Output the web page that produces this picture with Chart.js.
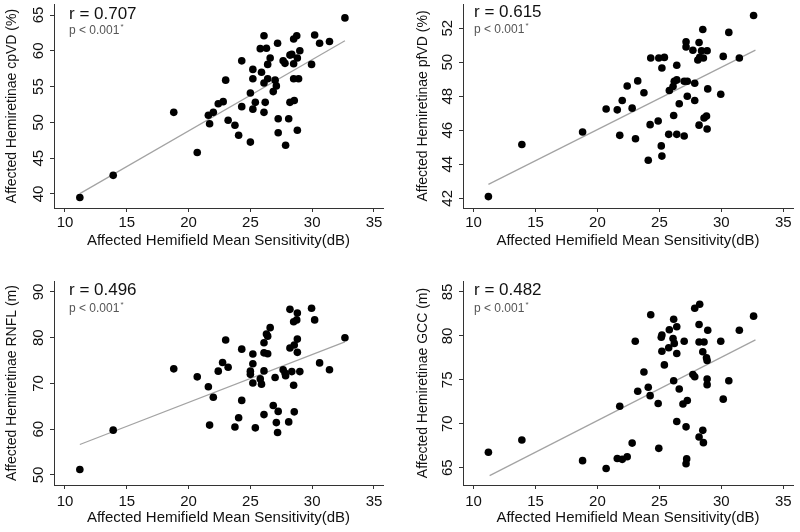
<!DOCTYPE html>
<html lang="en">
<head>
  <meta charset="UTF-8">
  <title>Hemifield sensitivity vs hemiretinal measures</title>
  <style>
    body { margin: 0; padding: 0; background: #fff; }
    .grid { position: relative; width: 800px; height: 532px; }
    .grid canvas { position: absolute; }
  </style>
</head>
<body>
  <div class="grid">
    <canvas id="cpvdChart" width="400" height="266" style="left:0;top:0"></canvas>
    <canvas id="pfvdChart" width="400" height="266" style="left:400px;top:0"></canvas>
    <canvas id="rnflChart" width="400" height="266" style="left:0;top:266px"></canvas>
    <canvas id="gccChart" width="400" height="266" style="left:400px;top:266px"></canvas>
  </div>

  <script src="https://cdn.jsdelivr.net/npm/chart.js"></script>
  <script>
    // shared x ticks (affected hemifield mean sensitivity, dB)
    const xTicks = [10, 15, 20, 25, 30, 35];

    // cpVD panel
    const cpvdMS = [11.2, 13.9, 18.8, 20.7, 21.6, 21.7, 22.0, 22.4, 22.8, 23.0, 23.2, 23.75, 24.05, 24.3, 24.3,
      25.0, 25.0, 25.2, 25.2, 25.2, 25.4, 25.8, 25.9, 26.1, 26.1, 26.2, 26.1, 26.3, 26.4, 26.4, 26.6, 26.85,
      27.0, 27.1, 27.2, 27.25, 27.25, 27.65, 27.8, 27.85, 28.1, 28.2, 28.2, 28.35, 28.5, 28.5, 28.55, 28.5,
      28.75, 28.8, 28.8, 28.9, 29.0, 29.95, 30.2, 30.6, 31.4, 32.65];
    const cpvd = [39.5, 42.6, 51.4, 45.8, 51.0, 49.8, 51.4, 52.6, 52.9, 55.9, 50.3, 49.6, 48.2, 52.2, 58.6,
      47.25, 54.1, 51.85, 56.1, 57.4, 52.8, 60.3, 57.0, 62.1, 55.5, 52.8, 51.4, 60.35, 58.1, 56.1, 59.0, 54.3,
      55.9, 55.1, 61.05, 50.5, 48.55, 58.6, 58.25, 46.8, 50.5, 52.8, 59.4, 59.5, 58.2, 56.1, 53.05, 61.65,
      62.1, 59.0, 48.9, 56.1, 60.0, 58.1, 62.2, 61.05, 61.3, 64.6];
    const cpvdFitX = [11.2, 32.65];
    const cpvdFitY = [40.05, 61.4];
    const cpvdTicks = [40, 45, 50, 55, 60, 65];

    // pfVD panel
    const pfvdMS = [11.2, 13.9, 18.8, 20.7, 21.6, 21.8, 22.0, 22.4, 22.8, 23.07, 23.25, 23.75, 24.1, 24.25,
      24.3, 24.9, 24.95, 25.15, 25.2, 25.2, 25.4, 25.75, 25.8, 26.1, 26.15, 26.2, 26.4, 26.4, 26.4, 26.6,
      27.0, 27.0, 27.15, 27.15, 27.25, 27.25, 27.7, 27.85, 27.85, 28.2, 28.1, 28.2, 28.25, 28.4, 28.5, 28.55,
      28.6, 28.8, 28.85, 28.85, 28.9, 29.95, 30.15, 30.6, 31.45, 32.6];
    const pfvd = [42.1, 45.16, 45.9, 47.25, 47.2, 45.7, 47.75, 48.6, 47.3, 45.5, 48.9, 48.2, 44.24, 46.33,
      50.25, 46.54, 50.25, 45.08, 44.48, 49.66, 50.28, 45.76, 48.34, 48.57, 46.87, 48.88, 49.82, 48.96, 45.76, 47.56,
      48.88, 45.66, 51.2, 50.9, 48.0, 48.88, 50.7, 48.76, 47.75, 51.16, 50.13, 46.3, 50.28, 50.67, 51.92, 50.25,
      46.72, 46.83, 50.67, 46.07, 48.43, 48.12, 50.34, 51.75, 50.25, 52.74];
    const pfvdFitX = [11.2, 32.75];
    const pfvdFitY = [42.82, 50.71];
    const pfvdTicks = [42, 44, 46, 48, 50, 52];

    // RNFL panel
    const rnflMS = [11.2, 13.9, 18.8, 20.7, 21.6, 21.7, 22.0, 22.4, 22.75, 23.0, 23.2, 23.75, 24.05, 24.3,
      24.3, 25.0, 25.0, 25.2, 25.2, 25.2, 25.4, 25.8, 25.9, 26.1, 26.1, 26.1, 26.1, 26.3, 26.4, 26.4, 26.6,
      26.85, 27.0, 27.1, 27.2, 27.25, 27.65, 27.8, 27.85, 28.1, 28.2, 28.2, 28.35, 28.5, 28.5, 28.55, 28.55,
      28.75, 28.8, 28.8, 28.8, 29.0, 29.95, 30.2, 30.6, 31.4, 32.65];
    const rnfl = [51.2, 59.8, 73.2, 71.45, 69.3, 60.9, 67.0, 72.7, 74.6, 79.5, 73.55, 60.5, 62.5, 66.3,
      77.5, 72.7, 72.0, 70.1, 74.3, 76.45, 60.3, 71.0, 69.85, 78.9, 76.7, 72.75, 63.2, 80.8, 80.35, 76.5, 82.2,
      65.2, 71.3, 61.45, 59.3, 63.9, 73.0, 72.3, 71.7, 61.6, 86.2, 77.75, 72.6, 69.6, 83.5, 63.8, 78.4,
      83.9, 85.4, 76.8, 79.7, 72.6, 86.45, 83.9, 74.5, 73.0, 80.0];
    const rnflFitX = [11.2, 32.65];
    const rnflFitY = [56.67, 79.1];
    const rnflTicks = [50, 60, 70, 80, 90];

    // GCC panel
    const gccMS = [11.2, 13.9, 18.8, 20.7, 21.6, 21.8, 22.0, 22.4, 22.8, 23.05, 23.25, 23.75, 24.1, 24.25,
      24.3, 24.9, 24.95, 25.15, 25.2, 25.2, 25.4, 25.75, 25.8, 26.1, 26.15, 26.2, 26.15, 26.4, 26.4, 26.4,
      26.6, 27.0, 26.9, 27.15, 27.15, 27.2, 27.25, 27.7, 27.85, 27.85, 28.2, 28.2, 28.2, 28.25, 28.5, 28.5,
      28.55, 28.6, 28.8, 28.85, 28.85, 28.85, 28.9, 29.95, 30.15, 30.6, 31.45, 32.6];
    const gcc = [66.75, 68.15, 65.8, 64.9, 66.05, 72.0, 65.95, 66.25, 67.8, 79.4, 73.7, 75.9, 74.15, 73.2,
      82.4, 72.3, 67.2, 79.85, 78.25, 80.1, 76.7, 78.65, 80.7, 79.7, 81.9, 79.15, 74.9, 81.05, 78.0, 70.25,
      73.95, 79.4, 72.25, 69.65, 65.45, 66.0, 72.65, 75.6, 83.15, 75.35, 81.3, 79.3, 68.5, 83.6, 78.2, 69.25,
      67.85, 79.3, 77.5, 75.1, 77.2, 74.45, 80.65, 79.4, 72.8, 74.9, 80.65, 82.25];
    const gccFitX = [11.3, 32.75];
    const gccFitY = [64.1, 79.55];
    const gccTicks = [65, 70, 75, 80, 85];

    const FONT = '"Liberation Sans", Arial, sans-serif';
    const AXIS_COLOR = '#333';

    // r / p annotation in the top-left corner of each panel
    const statText = {
      id: 'statText',
      afterDraw(chart, args, opts) {
        const ctx = chart.ctx;
        ctx.save();
        ctx.textBaseline = 'middle';
        ctx.textAlign = 'left';
        ctx.fillStyle = '#111';
        ctx.font = '17px ' + FONT;
        ctx.fillText(opts.r, opts.x, opts.rY);
        ctx.fillStyle = '#555';
        ctx.font = '12px ' + FONT;
        const p = 'p < 0.001';
        ctx.fillText(p, opts.x, opts.pY);
        const w = ctx.measureText(p).width;
        ctx.font = '8px ' + FONT;
        ctx.fillText('*', opts.x + w + 1, opts.pY - 4);
        ctx.restore();
      }
    };

    function pairs(xs, ys) {
      return xs.map((x, i) => ({ x: x, y: ys[i] }));
    }

    function makePanel(id, p) {
      new Chart(document.getElementById(id), {
        type: 'scatter',
        data: {
          datasets: [
            { data: pairs(p.xs, p.ys), backgroundColor: '#000', borderWidth: 0, pointRadius: 3.8 },
            { type: 'line', data: pairs(p.fitX, p.fitY), borderColor: '#a3a3a3', borderWidth: 1.2,
              pointRadius: 0, fill: false }
          ]
        },
        plugins: [statText],
        options: {
          responsive: false,
          animation: false,
          layout: { padding: { left: 0, top: p.top, right: 400 - p.right, bottom: 0 } },
          plugins: {
            legend: { display: false },
            tooltip: { enabled: false },
            statText: { r: p.r, x: p.textX, rY: p.rY, pY: p.pY }
          },
          scales: {
            x: {
              type: 'linear', min: p.xMin, max: p.xMax,
              afterBuildTicks: s => { s.ticks = xTicks.map(v => ({ value: v })); },
              afterFit: s => { s.height = 266 - p.bottom; s.paddingLeft = 0; s.paddingRight = 0; },
              border: { display: true, color: AXIS_COLOR, width: 1 },
              grid: { drawOnChartArea: false, drawTicks: true, tickLength: 4, color: AXIS_COLOR },
              ticks: { color: '#111', font: { family: FONT, size: 15 }, padding: p.xTickPad,
                maxRotation: 0, autoSkip: false },
              title: { display: true, text: 'Affected Hemifield Mean Sensitivity(dB)', color: '#111',
                font: { family: FONT, size: 15 }, padding: { top: 0, bottom: p.xTitlePad } }
            },
            y: {
              type: 'linear', min: p.yMin, max: p.yMax,
              afterBuildTicks: s => { s.ticks = p.yTicks.map(v => ({ value: v })); },
              afterFit: s => { s.width = p.left; s.paddingTop = 0; s.paddingBottom = 0; },
              border: { display: true, color: AXIS_COLOR, width: 1 },
              grid: { drawOnChartArea: false, drawTicks: true, tickLength: 4, color: AXIS_COLOR },
              ticks: { color: '#111', font: { family: FONT, size: 15 }, minRotation: 90, maxRotation: 90,
                crossAlign: 'center', padding: 3, autoSkip: false },
              title: { display: true, text: p.yTitle, color: '#111',
                font: { family: FONT, size: 14 }, padding: { top: p.yTitlePad, bottom: 0 } }
            }
          }
        }
      });
    }

    makePanel('cpvdChart', {
      xs: cpvdMS, ys: cpvd, fitX: cpvdFitX, fitY: cpvdFitY, yTicks: cpvdTicks,
      yTitle: 'Affected Hemiretinae cpVD (%)', r: 'r = 0.707',
      left: 54, right: 383, top: 4, bottom: 208,
      xMin: 9.11, xMax: 35.73, yMin: 38.04, yMax: 66.54,
      xTickPad: 2, xTitlePad: 16, yTitlePad: 4, textX: 69, rY: 14.5, pY: 31
    });

    makePanel('pfvdChart', {
      xs: pfvdMS, ys: pfvd, fitX: pfvdFitX, fitY: pfvdFitY, yTicks: pfvdTicks,
      yTitle: 'Affected Hemiretinae pfVD (%)', r: 'r = 0.615',
      left: 63, right: 393, top: 3, bottom: 208,
      xMin: 9.15, xMax: 35.78, yMin: 41.43, yMax: 53.42,
      xTickPad: 2, xTitlePad: 16, yTitlePad: 15, textX: 74, rY: 12.5, pY: 30
    });

    makePanel('rnflChart', {
      xs: rnflMS, ys: rnfl, fitX: rnflFitX, fitY: rnflFitY, yTicks: rnflTicks,
      yTitle: 'Affected Hemiretinae RNFL (m)', r: 'r = 0.496',
      left: 54, right: 383, top: 15, bottom: 219,
      xMin: 9.11, xMax: 35.73, yMin: 47.81, yMax: 92.4,
      xTickPad: 4, xTitlePad: 5, yTitlePad: 4, textX: 69, rY: 24, pY: 43
    });

    makePanel('gccChart', {
      xs: gccMS, ys: gcc, fitX: gccFitX, fitY: gccFitY, yTicks: gccTicks,
      yTitle: 'Affected Hemiretinae GCC (m)', r: 'r = 0.482',
      left: 63, right: 393, top: 15, bottom: 219,
      xMin: 9.15, xMax: 35.78, yMin: 63.03, yMax: 86.25,
      xTickPad: 4, xTitlePad: 5, yTitlePad: 15, textX: 74, rY: 24, pY: 43
    });
  </script>
</body>
</html>
